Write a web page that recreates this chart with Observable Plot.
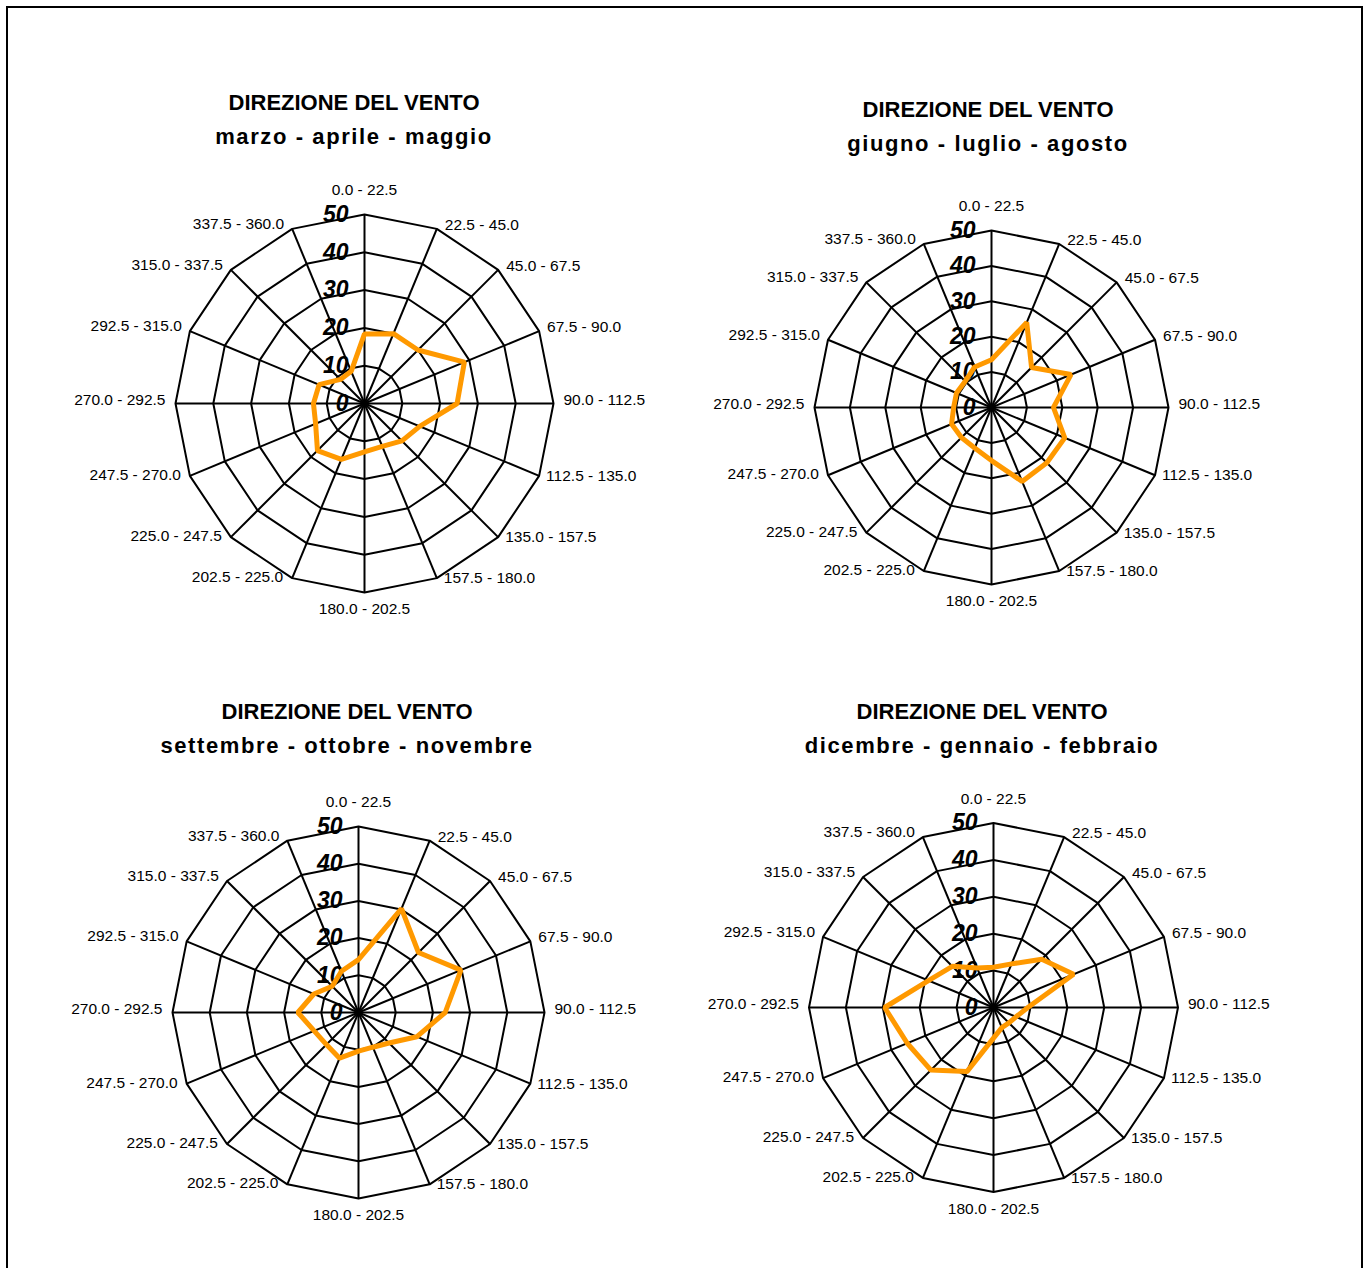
<!DOCTYPE html>
<html>
<head>
<meta charset="utf-8">
<script src="https://cdn.jsdelivr.net/npm/d3@7"></script>
<script src="https://cdn.jsdelivr.net/npm/@observablehq/plot@0.6"></script>
<style>
  html, body { margin: 0; padding: 0; background: #fff; }
  #page { position: relative; width: 1368px; height: 1268px; overflow: hidden; font-family: "Liberation Sans", Arial, sans-serif; }
  #frame { position: absolute; left: 6px; top: 6px; width: 1357px; height: 1400px; border: 2px solid #000; box-sizing: border-box; }
  .chart { position: absolute; }
  .title { position: absolute; transform: translateX(-50%); white-space: nowrap; font-weight: bold; font-size: 22px; line-height: 30px; height: 30px; color: #000; }
  .t1 { letter-spacing: 0px; }
  .t2 { letter-spacing: 1.6px; }
</style>
</head>
<body>
<div id="page"><div id="frame"></div></div>
<script>
// ---- data ----
const directions = ["0.0 - 22.5","22.5 - 45.0","45.0 - 67.5","67.5 - 90.0","90.0 - 112.5","112.5 - 135.0","135.0 - 157.5","157.5 - 180.0","180.0 - 202.5","202.5 - 225.0","225.0 - 247.5","247.5 - 270.0","270.0 - 292.5","292.5 - 315.0","315.0 - 337.5","337.5 - 360.0"];
const titleLine = "DIREZIONE DEL VENTO";
const seasons = ["marzo - aprile - maggio", "giugno - luglio - agosto", "settembre - ottobre - novembre", "dicembre - gennaio - febbraio"];
const springValues = [18.4, 20, 20, 28.6, 24.5, 15.8, 14, 12.3, 12.8, 16, 17.6, 14, 13.5, 13, 9, 9.2];
const summerValues = [13.5, 26, 16, 24.3, 17.5, 22.4, 22.1, 22.6, 15, 12.4, 12, 12.2, 10.7, 10.7, 10.5, 12.4];
const autumnValues = [14.2, 30.2, 22.8, 29.8, 23.3, 17, 11.6, 10.1, 10.4, 13.3, 12.2, 12.9, 16.3, 13, 10, 12];
const winterValues = [10.9, 12.8, 18.5, 23.5, 9.3, 6.6, 5.9, 5.9, 8.3, 18.8, 24, 25.3, 29.5, 19.1, 15.8, 11.6];
const ringTicks = [0, 10, 20, 30, 40, 50];

// ---- layout ----
const layouts = [
  {values: springValues, cx: 364, cy: 403, R: 189, tx: 354, ty: 103},
  {values: summerValues, cx: 991, cy: 406.5, R: 177, tx: 988, ty: 110},
  {values: autumnValues, cx: 357.7, cy: 1011.7, R: 186, tx: 347, ty: 712},
  {values: winterValues, cx: 993.3, cy: 1007.3, R: 184.5, tx: 982, ty: 712}
];

const maxR = d3.max(ringTicks);
const step = 2 * Math.PI / directions.length;

function radar(values, R) {
  const k = R / maxR;
  const W = 700, H = 520;
  const pts = values.map((v, i) => ({a: i * step, v}));
  const rings = ringTicks.filter(r => r > 0).flatMap(r => directions.map((d, i) => ({r, a: i * step})));
  const spokes = directions.map((d, i) => ({a: i * step, label: d}));
  const sx = d => Math.sin(d.a), cy = d => Math.cos(d.a);
  const eps = 1e-6;
  const right = spokes.filter(d => sx(d) > eps);
  const left = spokes.filter(d => sx(d) < -eps);
  const top = spokes.filter(d => Math.abs(sx(d)) <= eps && cy(d) > 0);
  const bottom = spokes.filter(d => Math.abs(sx(d)) <= eps && cy(d) < 0);
  const lx = d => maxR * Math.sin(d.a), ly = d => maxR * Math.cos(d.a);
  const labelMarks = [];
  const groups = [
    [right.filter(d => cy(d) > 0.1), "start", 8, -4],
    [right.filter(d => Math.abs(cy(d)) <= 0.1), "start", 10, -3],
    [right.filter(d => cy(d) < -0.1), "start", 7, 0],
    [left.filter(d => cy(d) > 0.1), "end", -8, -5],
    [left.filter(d => Math.abs(cy(d)) <= 0.1), "end", -10, -3],
    [left.filter(d => cy(d) < -0.1), "end", -9, -1],
    [top, "middle", 0, -24],
    [bottom, "middle", 0, 17]
  ];
  for (const [data, anchor, dx, dy] of groups) {
    labelMarks.push(Plot.text(data, {x: lx, y: ly, text: "label", textAnchor: anchor, dx, dy, fontSize: 15.5, fill: "#000"}));
  }
  return Plot.plot({
    width: W, height: H, margin: 0,
    x: {domain: [-W / 2 / k, W / 2 / k], axis: null},
    y: {domain: [-H / 2 / k, H / 2 / k], axis: null},
    style: {fontFamily: "'Liberation Sans', Arial, sans-serif", background: "transparent", overflow: "visible"},
    marks: [
      Plot.line(rings, {x: d => d.r * Math.sin(d.a), y: d => d.r * Math.cos(d.a), z: "r", curve: "linear-closed", stroke: "#000", strokeWidth: 2, strokeLinejoin: "miter"}),
      Plot.link(spokes, {x1: () => 0, y1: () => 0, x2: lx, y2: ly, stroke: "#000", strokeWidth: 2}),
      Plot.text(ringTicks, {x: () => 0, y: d => d, text: d => String(d), dx: -16, textAnchor: "end", fontSize: 23, fontWeight: "bold", fontStyle: "italic", fill: "#000"}),
      Plot.line(pts, {x: d => d.v * Math.sin(d.a), y: d => d.v * Math.cos(d.a), curve: "linear-closed", stroke: "#FF9900", strokeWidth: 5, strokeLinejoin: "miter"}),
      ...labelMarks
    ]
  });
}

const page = document.getElementById("page");
layouts.forEach((L, i) => {
  const svg = radar(L.values, L.R);
  const wrap = document.createElement("div");
  wrap.className = "chart";
  wrap.style.left = (L.cx - 350) + "px";
  wrap.style.top = (L.cy - 260) + "px";
  wrap.appendChild(svg);
  page.appendChild(wrap);
  const t1 = document.createElement("div");
  t1.className = "title t1";
  t1.textContent = titleLine;
  t1.style.left = L.tx + "px";
  t1.style.top = (L.ty - 15) + "px";
  page.appendChild(t1);
  const t2 = document.createElement("div");
  t2.className = "title t2";
  t2.textContent = seasons[i];
  t2.style.left = L.tx + "px";
  t2.style.top = (L.ty + 34 - 15) + "px";
  page.appendChild(t2);
});
</script>
</body>
</html>
